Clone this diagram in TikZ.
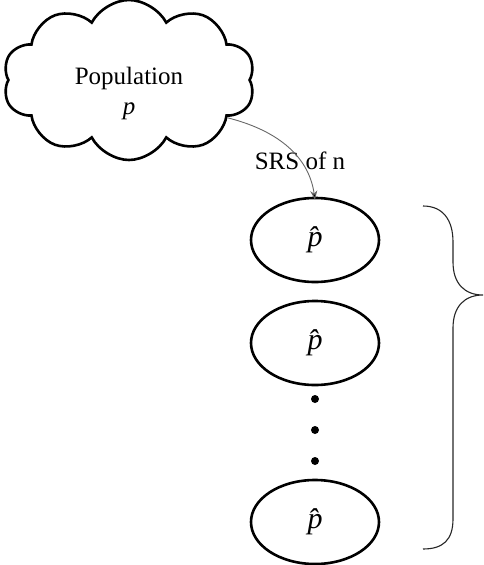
\documentclass[tikz,border=0pt]{standalone}
\usepackage{fontspec}
\setmainfont{Liberation Serif}
\usetikzlibrary{shapes.symbols,shapes.geometric,arrows.meta}
\begin{document}
\begin{tikzpicture}[x=1pt,y=-1pt,
  cloudbox/.style={cloud, cloud puffs=10, cloud puff arc=125, aspect=1.6, draw=black, line width=2.6pt,
     minimum width=252pt, minimum height=160pt, inner sep=0pt},
  cloudtext/.style={align=center, inner sep=0pt, font=\fontsize{25}{30}\selectfont},
  phat/.style={ellipse, draw=black, line width=2.6pt, minimum width=128pt, minimum height=84pt, inner sep=0pt,
     font=\fontsize{30}{30}\selectfont\itshape},
  dotmark/.style={circle, fill=black, inner sep=0pt, minimum size=8pt},
  lbl/.style={font=\fontsize{25}{28}\selectfont, inner sep=0pt}]
\useasboundingbox (0,0) rectangle (483,565);
\node[cloudbox] (pop) at (129,80) {};
\node[cloudtext] (poptext) at (129,93) {Population\\\textit{p}};
\node[phat] (e1) at (315,240) {p̂};
\node[phat] (e2) at (315,343) {p̂};
\node[phat] (e3) at (315,522) {p̂};
\node[dotmark] (d1) at (315,399) {};
\node[dotmark] (d2) at (315,430) {};
\node[dotmark] (d3) at (315,461) {};
\node[lbl] (srs) at (300,161) {SRS of n};
\draw[draw=black!60, line width=0.9pt, -{Stealth[length=9pt,width=7pt,fill=black]}]
  (pop.-21) to[out=-14, in=98] ([yshift=-3pt]e1.north);
\coordinate (btop) at (423,206);
\coordinate (bbot) at (423,549);
\coordinate (btip) at (483,295);
\draw[line width=1.1pt, black!85]
  (btop) .. controls (443,206) and (453,220) .. (453,242)
  -- (453,262) .. controls (453,284) and (465,295) .. (btip)
  .. controls (465,295) and (453,306) .. (453,328)
  -- (453,519) .. controls (453,540) and (443,549) .. (bbot);
\end{tikzpicture}
\end{document}
